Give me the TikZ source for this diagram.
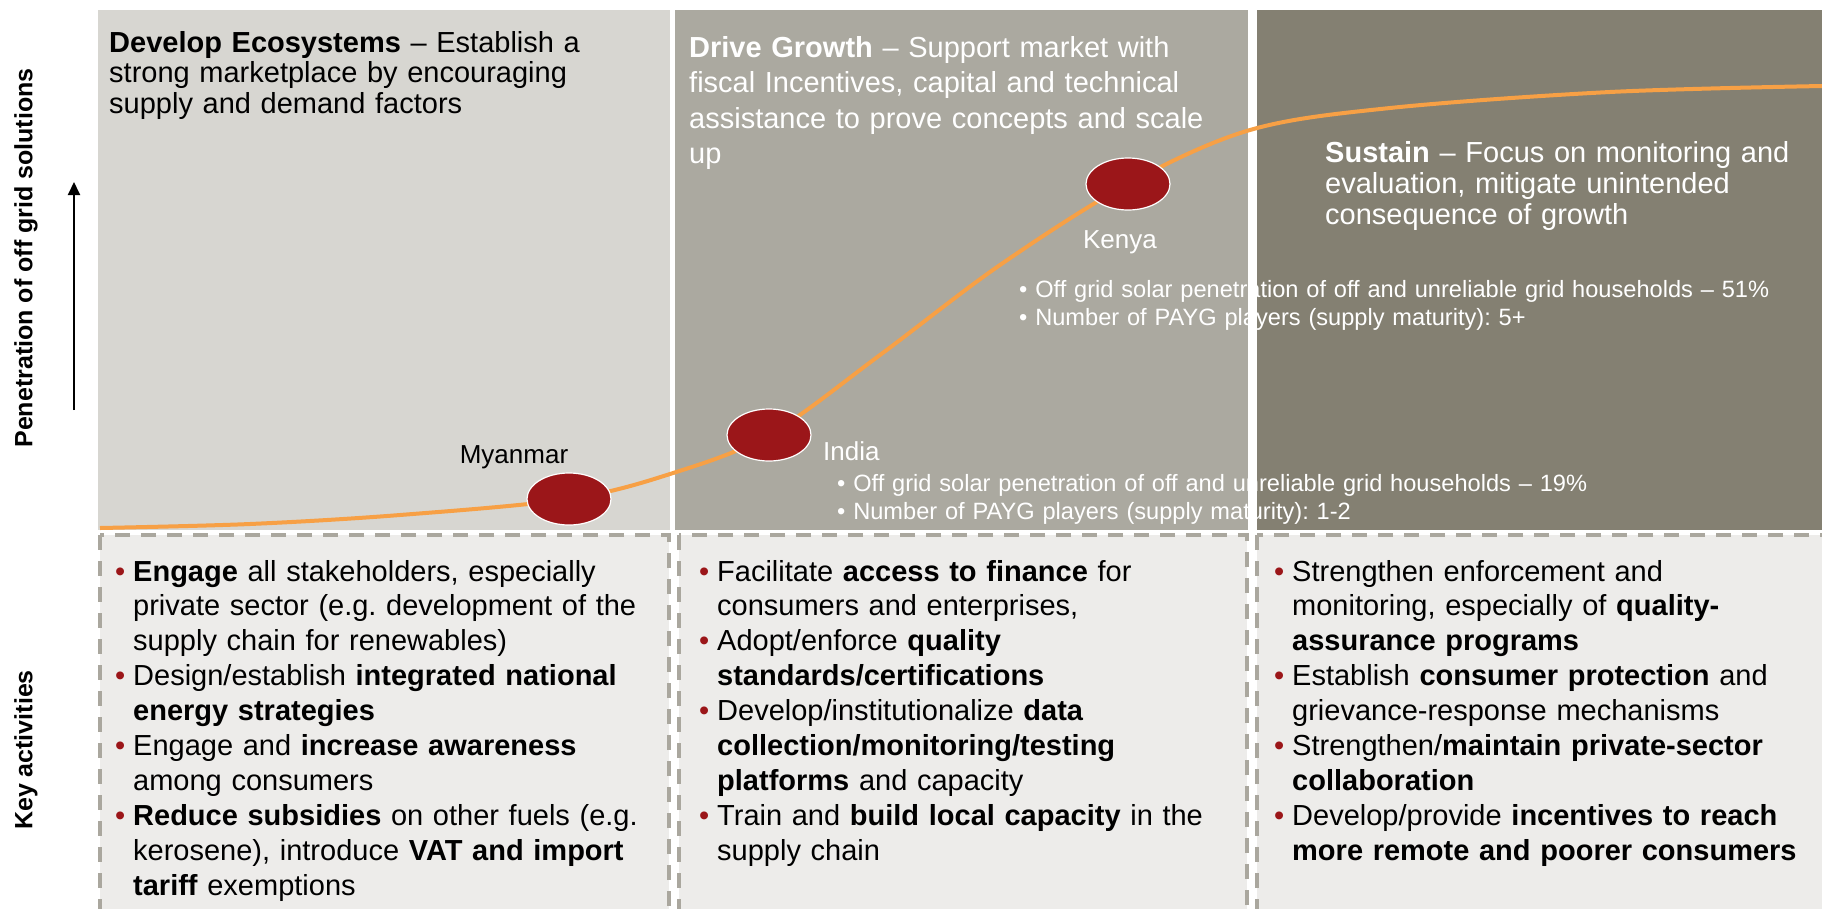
\documentclass[tikz,border=0pt]{standalone}
\usepackage{fontspec}
\setmainfont{Liberation Sans}
\usetikzlibrary{shapes.geometric,arrows.meta}
\definecolor{paneone}{RGB}{215,214,209}
\definecolor{panetwo}{RGB}{171,169,160}
\definecolor{panethree}{RGB}{132,128,114}
\definecolor{boxgrey}{RGB}{237,236,234}
\definecolor{dashgrey}{RGB}{170,167,158}
\definecolor{stagered}{RGB}{155,22,25}
\definecolor{curveorange}{RGB}{247,160,69}
\frenchspacing
\newcommand{\itmstart}{\noindent\hangindent=18pt\hangafter=1\makebox[18pt][l]{\textcolor{stagered}{•}}}
\newcommand{\itm}{\par\itmstart}
\tikzset{
  keybox/.style={draw=dashgrey,fill=boxgrey,line width=3.3pt,dash pattern=on 15pt off 11pt},
  keytext/.style={anchor=base west,inner sep=0,text width=550pt,align=left,font=\fontsize{29}{34.9}\selectfont},
  phasetitle/.style={anchor=base west,inner sep=0,text width=560pt,align=left},
  stagedot/.style={ellipse,draw=white,line width=1.2pt,fill=stagered,inner sep=0,minimum width=84pt,minimum height=52pt},
  countrylabel/.style={inner sep=0,font=\fontsize{26}{30}\selectfont},
  factlines/.style={anchor=base west,inner sep=0,text width=800pt,align=left,text=white,font=\fontsize{23.6}{28.5}\selectfont},
  axislabel/.style={rotate=90,inner sep=0,font=\bfseries\fontsize{25}{30}\selectfont}
}
\begin{document}
\begin{tikzpicture}[x=1pt,y=-1pt]
\useasboundingbox (0,0) rectangle (1822,908);
\clip (0,0) rectangle (1822,908);
\foreach \xa/\xb/\cc in {98/670/paneone,675/1248/panetwo,1257/1830/panethree}{
\fill[\cc] (\xa,10) rectangle (\xb,530);}
\foreach \xa/\xb in {100/669,679/1247,1257/1840}{
\draw[keybox] (\xa,535) rectangle (\xb,930);}
\coordinate (pm) at (569,499);
\coordinate (pi) at (769,435);
\coordinate (pk) at (1128,184);
\draw[curveorange,line width=4pt] plot[smooth,tension=0.55] coordinates {(100,528) (250,524) (400,515) (pm) (670,474) (pi) (880,355) (1000,265) (pk) (1250,130) (1390,108) (1610,92) (1822,86)};
\node[stagedot] (myanmar) at (pm) {};
\node[stagedot] (india) at (pi) {};
\node[stagedot] (kenya) at (pk) {};
\node[countrylabel,anchor=base] (myanmarlbl) at (514,463) {Myanmar};
\node[countrylabel,anchor=base west,text=white] (indialbl) at (823,460) {India};
\node[countrylabel,anchor=base,text=white] (kenyalbl) at (1120,248) {Kenya};
\node[factlines] (indiafacts) at (837,491) {• Off grid solar penetration of off and unreliable grid households – 19\%\\
• Number of PAYG players (supply maturity): 1-2};
\node[factlines] (kenyafacts) at (1019,297) {• Off grid solar penetration of off and unreliable grid households – 51\%\\
• Number of PAYG players (supply maturity): 5+};
\node[phasetitle,font=\fontsize{29}{30.8}\selectfont] (ecotitle) at (109,52) {\textbf{Develop Ecosystems} – Establish a\\
strong marketplace by encouraging\\
supply and demand factors};
\node[phasetitle,text=white,font=\fontsize{29}{35.6}\selectfont] (growtitle) at (689,57) {\textbf{Drive Growth} – Support market with\\
fiscal Incentives, capital and technical\\
assistance to prove concepts and scale\\
up};
\node[phasetitle,text=white,font=\fontsize{29}{31.4}\selectfont] (sustitle) at (1325,162) {\textbf{Sustain} – Focus on monitoring and\\
evaluation, mitigate unintended\\
consequence of growth};
\node[keytext] (ecoacts) at (115,581) {\itmstart\textbf{Engage} all stakeholders, especially\newline
private sector (e.g. development of the\newline
supply chain for renewables)
\itm Design/establish \textbf{integrated national\newline
energy strategies}
\itm Engage and \textbf{increase awareness}\newline
among consumers
\itm\textbf{Reduce subsidies} on other fuels (e.g.\newline
kerosene), introduce \textbf{VAT and import\newline
tariff} exemptions\par};
\node[keytext] (growacts) at (699,581) {\itmstart Facilitate \textbf{access to finance} for\newline
consumers and enterprises,
\itm Adopt/enforce \textbf{quality\newline
standards/certifications}
\itm Develop/institutionalize \textbf{data\newline
collection/monitoring/testing\newline
platforms} and capacity
\itm Train and \textbf{build local capacity} in the\newline
supply chain\par};
\node[keytext] (susacts) at (1274,581) {\itmstart Strengthen enforcement and\newline
monitoring, especially of \textbf{quality-\newline
assurance programs}
\itm Establish \textbf{consumer protection} and\newline
grievance-response mechanisms
\itm Strengthen/\textbf{maintain private-sector\newline
collaboration}
\itm Develop/provide \textbf{incentives to reach\newline
more remote and poorer consumers}\par};
\node[axislabel] (penlabel) at (26,258) {Penetration of off grid solutions};
\node[axislabel] (keylabel) at (26,750) {Key activities};
\coordinate (arrowfoot) at (74,410);
\coordinate (arrowtip) at (74,182);
\draw[line width=2pt,-{Triangle[length=13pt,width=12pt]}] (arrowfoot) -- (arrowtip);
\end{tikzpicture}
\end{document}
